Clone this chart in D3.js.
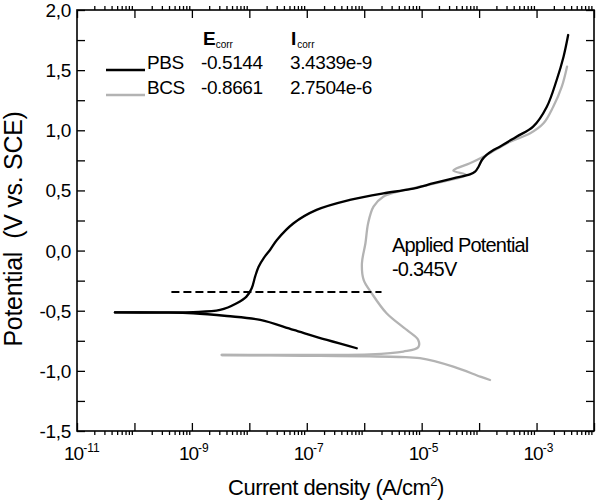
<!DOCTYPE html>
<html>
<head>
<meta charset="utf-8">
<script src="https://cdn.jsdelivr.net/npm/d3@7"></script>
<style>
  html, body { margin: 0; padding: 0; background: #fff; }
  svg { display: block; font-family: "Liberation Sans", Arial, sans-serif; }
</style>
</head>
<body>
<svg id="chart" width="600" height="503"></svg>
<script>
// ---------------- data ----------------
// PBS (black) cathodic branch: current density (A/cm2), potential (V vs SCE)
const pbsCathI = [4.57e-11, 2.75e-10, 1.05e-9, 4.07e-9, 1.55e-8, 5.89e-8, 2.24e-7, 7.41e-7];
const pbsCathE = [-0.514, -0.516, -0.521, -0.544, -0.577, -0.660, -0.743, -0.812];
// PBS anodic branch
const pbsAnodI = [4.57e-11, 2.75e-10, 1.05e-9, 3.09e-9, 6.03e-9, 8.91e-9, 1.10e-8, 1.26e-8, 1.45e-8, 1.78e-8,
  2.29e-8, 3.02e-8, 5.89e-8, 1.48e-7, 5.62e-7, 2.14e-6, 6.31e-6, 1.62e-5, 3.55e-5, 6.92e-5,
  8.51e-5, 9.77e-5, 1.12e-4, 1.35e-4, 1.78e-4, 2.29e-4, 4.47e-4, 8.71e-4, 1.51e-3, 2.24e-3, 2.95e-3, 3.55e-3];
const pbsAnodE = [-0.514, -0.514, -0.512, -0.494, -0.438, -0.383, -0.313, -0.217, -0.134, -0.062,
  0.005, 0.088, 0.227, 0.338, 0.421, 0.476, 0.510, 0.560, 0.601, 0.634,
  0.656, 0.697, 0.753, 0.795, 0.836, 0.864, 0.947, 1.030, 1.196, 1.418, 1.612, 1.792];
// BCS (grey) cathodic branch
const bcsCathI = [3.31e-9, 2.29e-8, 1.70e-7, 1.26e-6, 4.17e-6, 9.33e-6, 3.55e-5, 1.05e-4, 1.55e-4];
const bcsCathE = [-0.868, -0.872, -0.876, -0.880, -0.885, -0.895, -0.965, -1.048, -1.076];
// BCS anodic branch
const bcsAnodI = [3.31e-9, 2.29e-8, 1.70e-7, 1.26e-6, 4.79e-6, 8.71e-6, 8.71e-6, 5.50e-6, 2.45e-6, 1.35e-6,
  9.77e-7, 9.12e-7, 1.05e-6, 1.17e-6, 1.45e-6, 2.14e-6, 4.17e-6, 7.08e-6, 9.33e-6, 3.55e-5,
  6.03e-5, 3.55e-5, 4.07e-5, 6.92e-5, 1.35e-4, 3.47e-4, 7.76e-4, 1.32e-3, 1.95e-3, 2.75e-3, 3.39e-3];
const bcsAnodE = [-0.868, -0.868, -0.868, -0.864, -0.840, -0.804, -0.743, -0.660, -0.521, -0.355,
  -0.244, -0.106, 0.061, 0.227, 0.365, 0.448, 0.495, 0.518, 0.531, 0.593,
  0.628, 0.664, 0.684, 0.726, 0.795, 0.905, 0.975, 1.058, 1.196, 1.363, 1.529];

// applied potential line
const appliedI = [4.4e-10, 2.0e-6];
const appliedE = -0.345;

// legend table
const legendNames = ["PBS", "BCS"];
const legendEcorr = ["-0.5144", "-0.8661"];
const legendIcorr = ["3.4339e-9", "2.7504e-6"];
const legendColors = ["#000000", "#b3b3b3"];

// ticks
const xMajorTicks = [1e-11, 1e-10, 1e-9, 1e-8, 1e-7, 1e-6, 1e-5, 1e-4, 1e-3, 1e-2];
const xLabelExps = [-11, -9, -7, -5, -3];
const yAllTicks = [-1.5, -1.25, -1.0, -0.75, -0.5, -0.25, 0, 0.25, 0.5, 0.75, 1.0, 1.25, 1.5, 1.75, 2.0];
const yLabelValues = [-1.5, -1.0, -0.5, 0, 0.5, 1.0, 1.5, 2.0];
const yLabelTexts = ["-1,5", "-1,0", "-0,5", "0,0", "0,5", "1,0", "1,5", "2,0"];

// ---------------- layout ----------------
const L = 77, R = 594, T = 10, B = 431;
const svg = d3.select("#chart");
const x = d3.scaleLog().domain([1e-11, 1e-2]).range([L, R]);
const y = d3.scaleLinear().domain([-1.5, 2.0]).range([B, T]);

const xMinorTicks = [];
xMajorTicks.slice(0, -1).forEach(m => { for (let k = 2; k <= 9; k++) xMinorTicks.push(m * k); });

function styleAxis(g) {
  g.select(".domain").remove();
  g.selectAll(".tick line").attr("stroke", "#000").attr("stroke-width", 1.3);
  g.selectAll(".tick text").remove();
}

// bottom: major inward, minor outward
svg.append("g").attr("transform", `translate(0,${B})`)
  .call(d3.axisBottom(x).tickValues(xMajorTicks).tickSize(-8).tickFormat(""))
  .call(styleAxis);
svg.append("g").attr("transform", `translate(0,${B})`)
  .call(d3.axisBottom(x).tickValues(xMinorTicks).tickSize(4).tickFormat(""))
  .call(styleAxis);
// top
svg.append("g").attr("transform", `translate(0,${T})`)
  .call(d3.axisTop(x).tickValues(xMajorTicks).tickSize(-8).tickFormat(""))
  .call(styleAxis);
svg.append("g").attr("transform", `translate(0,${T})`)
  .call(d3.axisTop(x).tickValues(xMinorTicks).tickSize(4).tickFormat(""))
  .call(styleAxis);
// left / right
svg.append("g").attr("transform", `translate(${L},0)`)
  .call(d3.axisLeft(y).tickValues(yAllTicks).tickSize(-8).tickFormat(""))
  .call(styleAxis);
svg.append("g").attr("transform", `translate(${R},0)`)
  .call(d3.axisRight(y).tickValues(yAllTicks).tickSize(-8).tickFormat(""))
  .call(styleAxis);

// frame
svg.append("rect").attr("x", L).attr("y", T).attr("width", R - L).attr("height", B - T)
  .attr("fill", "none").attr("stroke", "#000").attr("stroke-width", 1.6);

// y tick labels
svg.append("g").selectAll("text").data(yLabelValues).join("text")
  .attr("x", L - 6).attr("y", d => y(d) + 7)
  .attr("text-anchor", "end").attr("font-size", 19).attr("letter-spacing", -0.3)
  .text((d, i) => yLabelTexts[i]);

// x tick labels 10^n
const xl = svg.append("g").selectAll("text").data(xLabelExps).join("text")
  .attr("x", d => x(Math.pow(10, d)) - 13).attr("y", 460)
  .attr("font-size", 19).attr("letter-spacing", -1);
xl.append("tspan").text("10");
xl.append("tspan").attr("font-size", 12).attr("dy", -8).attr("letter-spacing", 0).text(d => "-" + Math.abs(d));

// axis titles
const xt = svg.append("text").attr("x", 336).attr("y", 495).attr("text-anchor", "middle")
  .attr("font-size", 22).attr("letter-spacing", -0.5);
xt.append("tspan").text("Current density (A/cm");
xt.append("tspan").attr("font-size", 13).attr("dy", -9).text("2");
xt.append("tspan").attr("dy", 9).text(")");

svg.append("text").attr("transform", "translate(22,229) rotate(-90)")
  .attr("text-anchor", "middle").attr("font-size", 25).attr("letter-spacing", -0.3)
  .style("white-space", "pre").text("Potential  (V vs. SCE)");

// curves
const line = d3.line().x(d => x(d[0])).y(d => y(d[1])).curve(d3.curveCatmullRom.alpha(0.5));
const zip = (a, b) => a.map((v, i) => [v, b[i]]);
const plot = svg.append("g");
[[bcsCathI, bcsCathE, legendColors[1]], [bcsAnodI, bcsAnodE, legendColors[1]],
 [pbsCathI, pbsCathE, legendColors[0]], [pbsAnodI, pbsAnodE, legendColors[0]]]
  .forEach(([I, E, c]) => {
    plot.append("path").attr("d", line(zip(I, E))).attr("fill", "none")
      .attr("stroke", c).attr("stroke-width", 2.3).attr("stroke-linejoin", "round").attr("stroke-linecap", "round");
  });

// applied potential dashed line
svg.append("line").attr("x1", x(appliedI[0])).attr("x2", x(appliedI[1]))
  .attr("y1", y(appliedE)).attr("y2", y(appliedE))
  .attr("stroke", "#000").attr("stroke-width", 2).attr("stroke-dasharray", "8,4");

svg.append("text").attr("x", 392).attr("y", 252).attr("font-size", 20).attr("letter-spacing", -0.8)
  .text("Applied Potential");
svg.append("text").attr("x", 392).attr("y", 276).attr("font-size", 20).attr("letter-spacing", -0.8)
  .text("-0.345V");

// legend
const hdr = svg.append("g");
const e1 = hdr.append("text").attr("x", 203).attr("y", 45).attr("font-size", 19).attr("font-weight", "bold");
e1.append("tspan").text("E");
e1.append("tspan").attr("font-size", 10).attr("font-weight", "normal").attr("dy", 3).text("corr");
const i1 = hdr.append("text").attr("x", 291).attr("y", 45).attr("font-size", 19).attr("font-weight", "bold");
i1.append("tspan").text("I");
i1.append("tspan").attr("font-size", 10).attr("font-weight", "normal").attr("dy", 3).attr("dx", 1).text("corr");

const rows = svg.append("g").selectAll("g").data(legendNames).join("g")
  .attr("transform", (d, i) => `translate(0,${69 + i * 25})`);
rows.append("line").attr("x1", 106).attr("x2", 145).attr("y1", 1).attr("y2", 1)
  .attr("stroke", (d, i) => legendColors[i]).attr("stroke-width", 2.4);
rows.append("text").attr("x", 147).attr("y", 0).attr("font-size", 19).attr("letter-spacing", -0.4).text(d => d);
rows.append("text").attr("x", 201).attr("y", 0).attr("font-size", 19).attr("letter-spacing", -0.4).text((d, i) => legendEcorr[i]);
rows.append("text").attr("x", 290).attr("y", 0).attr("font-size", 19).attr("letter-spacing", -0.4).text((d, i) => legendIcorr[i]);
</script>
</body>
</html>
